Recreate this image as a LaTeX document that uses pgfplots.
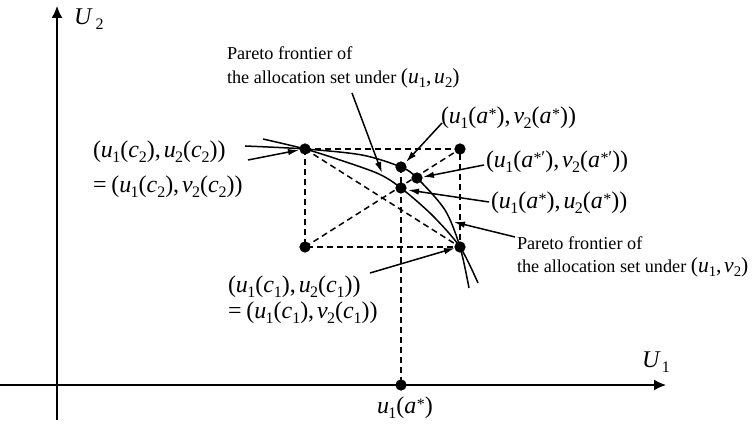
\documentclass[border=0pt]{standalone}
\usepackage{fontspec}
\setmainfont{Liberation Serif}
\usepackage{pgfplots}
\pgfplotsset{compat=1.18}
\usetikzlibrary{arrows.meta}

% italic variables with upright lowered indices
\newcommand{\sub}[1]{\raisebox{-0.45ex}{\fontsize{8}{8}\selectfont #1}}
\newcommand{\ssub}[1]{\raisebox{-0.45ex}{\fontsize{7.4}{7.5}\selectfont #1}}
\newcommand{\vu}[1]{\textit{u}\kern-0.03em\sub{#1}}
\newcommand{\vv}[1]{\textit{v}\kern-0.03em\sub{#1}}
\newcommand{\sstar}{\raisebox{0.35ex}{\fontsize{8}{8}\selectfont *}}
\newcommand{\astar}{\textit{a}\kern0.02em\sstar}
\newcommand{\astarp}{\textit{a}\kern0.02em\raisebox{0.35ex}{\fontsize{8}{8}\selectfont *\kern-0.02em\fontsize{9}{9}\selectfont ′}}
\newcommand{\cc}[1]{\textit{c}\sub{#1}}
\newcommand{\cm}{,\kern0.12em}
\newcommand{\mathsz}{\fontsize{12}{14}\selectfont}
\newcommand{\textsz}{\fontsize{9.1}{11}\selectfont}
% pair of utilities set inside the running text of a caption
\newcommand{\pair}[2]{{\fontsize{10.8}{12}\selectfont(\textit{u}\ssub{1},\kern0.12em\textit{#1}\ssub{#2})}}

\tikzset{
  dsh/.style={black, line width=0.75pt, dash pattern=on 3pt off 2pt},
  ptr/.style={line width=0.75pt, -{Latex[length=5.5pt,width=3.2pt]}},
  lbl/.style={anchor=west, inner sep=0pt, outer sep=0pt},
}

\begin{document}
\begin{tikzpicture}
\begin{axis}[
  width=378pt, height=214pt, scale only axis,
  xmin=-57, xmax=699, ymin=-43, ymax=385,
  hide axis, clip=false,
]
\coordinate (SW) at (axis cs:-57,-43);
\coordinate (NE) at (axis cs:699,385);

% coordinate axes
\draw[line width=0.75pt, -{Latex[length=6pt,width=5.5pt]}] (axis cs:-57,0) -- (axis cs:609,0);
\draw[line width=0.75pt, -{Latex[length=6pt,width=5.5pt]}] (axis cs:0,-35) -- (axis cs:0,379);

% dashed construction lines
\addplot[dsh] coordinates {(248,236) (403,236) (403,138) (248,138) (248,236)};
\addplot[dsh] coordinates {(248,236) (403,138)};
\addplot[dsh] coordinates {(248,138) (403,236)};
\addplot[dsh] coordinates {(344,218) (344,0)};

% Pareto frontier under (u1,u2)
\addplot[black, line width=0.75pt, smooth] coordinates {
  (206,246) (248,236) (286,224) (322,211) (344,197) (375,170) (403,138) (421,102)};
% Pareto frontier under (u1,v2)
\addplot[black, line width=0.75pt, smooth] coordinates {
  (188,239) (248,236) (305,230) (344,218) (360,207) (388,175) (403,138) (412,97)};

% allocation points
\addplot[only marks, mark=*, mark size=2.6pt, black] coordinates {
  (248,236) (403,236) (248,138) (403,138) (344,218) (360,207) (344,197) (344,0)};

% pointers
\draw[ptr] (axis cs:295,292) -- (axis cs:325,212);
\draw[ptr] (axis cs:385,262) -- (axis cs:349,223);
\draw[ptr] (axis cs:427,220) -- (axis cs:366,208);
\draw[ptr] (axis cs:432,183) -- (axis cs:351,195);
\draw[ptr] (axis cs:458,148) -- (axis cs:397,163);
\draw[ptr] (axis cs:313,112) -- (axis cs:398,137);
\draw[ptr] (axis cs:191,225) -- (axis cs:242,235);

% labels
\node[lbl] at (axis cs:17,366) {\mathsz\textit{U}\kern0.12em\sub{2}};
\node[lbl] at (axis cs:585,23) {\mathsz\textit{U}\kern0.05em\sub{1}};
\node[inner sep=0pt] at (axis cs:348,-23) {\mathsz\vu{1}(\astar)};

\node[lbl] at (axis cs:170,332) {\textsz Pareto frontier of};
\node[lbl] at (axis cs:170,307) {\textsz the allocation set under \pair{u}{2}};

\node[lbl] at (axis cs:460,142) {\textsz Pareto frontier of};
\node[lbl] at (axis cs:460,118) {\textsz the allocation set under \pair{v}{2}};

\node[lbl] at (axis cs:384,267) {\mathsz(\vu{1}(\astar)\cm\vv{2}(\astar))};
\node[lbl] at (axis cs:429,223) {\mathsz(\vu{1}(\astarp)\cm\vv{2}(\astarp))};
\node[lbl] at (axis cs:434,182) {\mathsz(\vu{1}(\astar)\cm\vu{2}(\astar))};

\node[lbl] at (axis cs:36,233) {\mathsz(\vu{1}(\cc{2})\cm\vu{2}(\cc{2}))};
\node[lbl] at (axis cs:36,198) {\mathsz=\kern0.2em(\vu{1}(\cc{2})\cm\vv{2}(\cc{2}))};

\node[lbl] at (axis cs:171,98) {\mathsz(\vu{1}(\cc{1})\cm\vu{2}(\cc{1}))};
\node[lbl] at (axis cs:171,72) {\mathsz=\kern0.2em(\vu{1}(\cc{1})\cm\vv{2}(\cc{1}))};
\end{axis}
\pgfresetboundingbox
\path[use as bounding box] (SW) rectangle (NE);
\end{tikzpicture}
\end{document}
